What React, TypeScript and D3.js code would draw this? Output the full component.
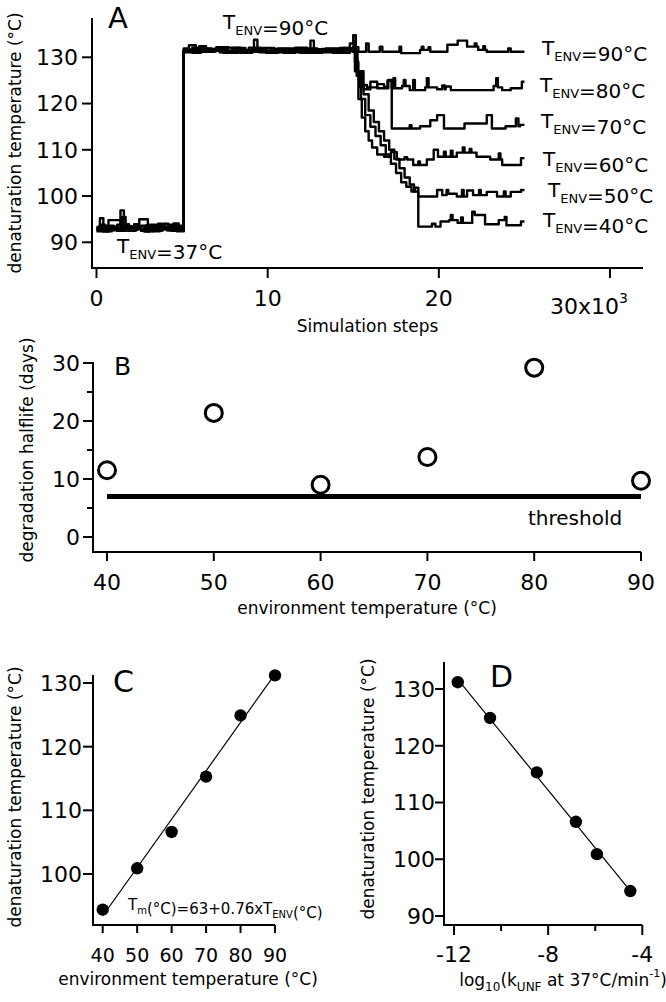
import React from 'react';
import * as d3 from 'd3';

type P = [number, number];

const FONT = '"DejaVu Sans", Verdana, sans-serif';

// ---------- Panel A data: simulation step (x10^3) vs denaturation temperature ----------
const stepTicksA = [0, 10, 20, 30];
const tempTicksA = [90, 100, 110, 120, 130];

const series90: P[] = [
  [0, 93.0], [0.4, 92.3], [0.7, 93.4], [1.1, 92.8], [1.5, 95.5], [1.7, 92.9], [2.2, 93.2], [2.6, 92.5],
  [3.0, 93.8], [3.5, 92.7], [3.9, 93.3], [4.4, 92.5], [4.8, 93.6],
  [5.1, 131.6], [5.6, 131.0], [6.1, 131.8], [6.8, 131.4], [7.6, 132.1], [8.4, 131.3], [9.1, 131.8],
  [9.9, 131.0], [10.6, 131.5], [11.4, 131.9], [12.1, 131.2], [12.8, 131.7], [13.5, 131.2], [14.2, 132.0],
  [14.8, 133.0], [15.0, 134.8], [15.15, 132.2],
  [15.3, 131.2], [15.75, 133.0], [15.9, 131.2], [16.55, 132.3], [16.7, 131.2], [17.7, 132.3], [17.8, 130.9],
  [18.9, 131.6], [19.0, 132.3], [19.1, 131.6], [19.4, 132.2], [19.5, 131.2], [20.5, 132.7], [21.1, 133.6],
  [21.65, 132.3], [22.1, 133.0], [22.2, 132.3], [22.3, 131.6], [22.6, 132.4], [22.7, 131.6], [22.8, 131.2],
  [24.05, 131.9], [24.2, 131.2], [25.0, 131.2],
];

const series80: P[] = [
  [0, 92.7], [0.2, 93.8], [0.5, 92.6], [0.9, 93.3], [1.2, 92.5], [1.7, 93.5], [2.1, 92.8], [2.6, 93.6],
  [2.9, 92.4], [3.3, 93.3], [3.6, 94.0], [3.8, 92.8], [4.3, 93.2], [4.7, 92.4],
  [5.1, 131.3], [5.9, 131.9], [6.7, 131.4], [7.4, 131.0], [8.1, 131.5], [8.9, 132.1], [9.6, 131.3],
  [10.3, 131.8], [11.0, 131.2], [11.7, 131.6], [12.4, 131.0], [13.2, 131.8], [13.9, 131.3], [14.4, 132.0],
  [15.05, 133.2], [15.15, 129.5], [15.25, 126.8], [15.4, 123.6], [15.6, 123.1], [16.0, 124.7], [16.4, 123.3],
  [17.05, 125.1], [17.25, 123.3], [17.35, 125.5], [17.45, 123.3], [17.85, 123.8], [17.95, 125.1], [18.05, 123.8],
  [18.3, 122.9], [18.5, 125.1], [18.6, 122.9], [19.2, 123.5], [19.3, 125.5], [19.4, 123.5], [19.9, 123.1],
  [20.2, 123.9], [20.35, 123.1], [20.4, 123.7], [20.7, 122.9], [23.2, 123.8], [23.35, 125.5], [23.45, 123.5],
  [23.7, 122.9], [24.2, 123.3], [24.85, 124.7], [25.0, 124.7],
];

const series70: P[] = [
  [0, 93.3], [0.3, 92.5], [0.6, 93.6], [1.0, 92.9], [1.5, 93.4], [1.9, 92.6], [2.2, 93.9], [2.5, 95.0],
  [3.0, 93.1], [3.4, 92.5], [3.8, 93.4], [4.2, 92.6], [4.5, 94.1], [4.8, 92.9],
  [5.1, 131.9], [5.4, 132.6], [5.8, 131.3], [6.6, 131.8], [7.3, 131.2], [8.0, 132.0], [8.7, 131.5],
  [9.5, 131.1], [10.2, 131.7], [10.9, 131.0], [11.6, 132.1], [12.3, 131.3], [13.0, 131.7], [13.8, 131.0],
  [14.5, 131.5], [14.9, 131.8],
  [15.1, 129.0], [15.3, 126.5], [15.5, 124.0], [15.8, 123.5], [16.4, 124.2], [16.8, 123.6], [17.0, 125.0],
  [17.25, 114.6], [18.3, 115.3], [18.4, 114.6], [18.9, 115.1], [19.5, 116.4], [19.9, 117.5], [20.3, 114.6],
  [21.5, 115.7], [22.8, 117.5], [23.1, 114.6], [23.9, 115.1], [24.5, 116.8], [24.65, 115.1], [24.75, 115.4],
  [25.0, 115.4],
];

const series60: P[] = [
  [0, 92.4], [0.4, 93.0], [0.8, 92.6], [1.2, 93.8], [1.4, 96.9], [1.6, 93.2], [2.0, 92.7], [2.4, 93.5],
  [2.8, 92.3], [3.1, 93.0], [3.5, 92.6], [3.9, 94.0], [4.2, 92.8], [4.6, 93.3],
  [5.1, 131.1], [5.7, 131.8], [6.3, 131.3], [7.0, 132.2], [7.7, 131.4], [8.4, 131.0], [9.1, 131.7],
  [9.8, 131.2], [10.6, 131.9], [11.3, 131.1], [12.0, 131.6], [12.5, 133.6], [12.7, 131.4], [13.4, 131.9],
  [14.1, 131.2], [14.7, 131.9], [15.0, 132.4],
  [15.1, 127.0], [15.3, 121.0], [15.5, 117.0], [15.7, 114.0], [15.9, 112.0], [16.1, 110.5], [16.4, 109.0],
  [16.8, 108.5], [17.2, 109.5], [17.55, 107.9], [18.0, 108.4], [18.15, 107.9], [18.5, 106.7], [18.8, 107.5],
  [18.9, 106.7], [19.3, 107.9], [19.7, 110.0], [19.95, 108.5], [20.3, 109.6], [20.4, 108.5], [20.7, 109.8],
  [20.8, 108.5], [21.05, 109.4], [21.4, 110.5], [21.5, 109.4], [21.8, 110.2], [21.9, 109.4], [22.2, 108.5],
  [23.0, 107.9], [23.5, 109.2], [23.6, 107.9], [23.7, 106.7], [24.8, 108.2], [25.0, 108.2],
];

const series50: P[] = [
  [0, 93.1], [0.2, 95.2], [0.4, 92.8], [0.7, 94.8], [1.4, 93.0], [1.8, 92.5], [2.1, 93.4], [2.5, 92.9],
  [2.9, 93.7], [3.2, 92.6], [3.6, 93.5], [4.0, 92.9], [4.3, 93.8], [4.7, 92.5],
  [5.1, 131.7], [5.5, 131.2], [6.0, 132.4], [6.4, 131.5], [7.2, 131.1], [7.9, 131.9], [8.6, 131.3],
  [9.2, 133.8], [9.4, 131.5], [10.1, 131.1], [10.8, 131.8], [11.5, 131.4], [12.2, 131.9], [12.9, 131.2],
  [13.6, 131.6], [14.3, 131.0], [14.8, 131.7], [15.0, 131.2],
  [15.2, 126.0], [15.45, 121.0], [15.7, 117.5], [16.0, 115.0], [16.3, 113.0], [16.6, 111.0], [16.9, 109.0],
  [17.2, 107.0], [17.5, 105.0], [17.8, 103.0], [18.1, 102.0], [18.4, 101.0], [18.6, 101.8],
  [18.8, 99.9], [19.9, 101.3], [20.2, 100.2], [20.45, 101.3], [20.55, 100.5],
  [21.05, 99.9], [21.35, 101.3], [21.45, 99.9], [21.65, 101.2], [22.0, 100.2], [22.35, 101.3], [22.45, 100.2],
  [22.8, 100.9], [23.4, 99.9], [23.8, 101.0], [23.9, 99.9], [24.2, 100.9], [24.8, 101.3], [25.0, 101.3],
];

const series40: P[] = [
  [0, 92.6], [0.3, 93.5], [0.6, 92.4], [0.9, 93.2], [1.3, 92.7], [1.6, 93.9], [1.9, 92.5], [2.3, 93.3],
  [2.6, 92.8], [3.0, 93.6], [3.3, 92.4], [3.7, 93.1], [4.1, 92.6], [4.4, 93.4], [4.8, 92.7],
  [5.1, 131.4], [5.6, 132.1], [6.2, 131.2], [6.9, 131.8], [7.5, 131.0], [8.3, 131.6], [9.0, 131.2],
  [9.7, 132.0], [10.4, 131.3], [11.2, 131.7], [11.9, 131.0], [12.6, 131.5], [13.3, 131.1], [14.0, 131.8],
  [14.6, 131.3],
  [15.25, 127.0], [15.6, 122.0], [15.9, 118.5], [16.2, 116.0], [16.5, 114.0], [16.8, 112.0], [17.1, 110.0],
  [17.4, 108.0], [17.7, 106.0], [18.0, 104.0], [18.3, 102.5], [18.55, 101.0],
  [18.8, 93.4], [19.6, 94.0], [19.8, 93.4], [20.1, 94.5], [20.6, 94.8], [20.7, 95.9], [20.8, 94.8],
  [21.1, 94.2], [21.3, 95.4], [21.4, 94.2], [21.95, 96.6], [22.1, 95.9], [22.7, 93.9], [23.5, 94.8],
  [23.85, 95.5], [23.95, 93.7], [24.8, 94.5], [25.0, 94.5],
];

const allSeriesA = [series90, series80, series70, series60, series50, series40];
const envLabelsA = ['90', '80', '70', '60', '50', '40'];

// ---------- Panel B data ----------
const envTemps = [40, 50, 60, 70, 80, 90];
const halflifeDays = [11.5, 21.4, 9.0, 13.8, 29.2, 9.7];
const thresholdDays = 7;
const halflifeTicks = [0, 10, 20, 30];
const halflifeMinorTicks = [5, 15, 25];

// ---------- Panel C / D data (ordered by environment temperature 40..90) ----------
const denatTemps = [94.4, 100.9, 106.6, 115.3, 124.9, 131.2];
const fitIntercept = 63;
const fitSlope = 0.76;
const tempTicksC = [100, 110, 120, 130];
const log10kUnf = [-4.51, -5.93, -6.82, -8.48, -10.47, -11.84];
const logTicksMajor = [-12, -8, -4];
const logTicksMinor = [-10, -6];

// ---------- layout (pixel geometry of panels) ----------
const LA = { x0: 96.5, x30: 610, y90: 242.3, y130: 57.3, axLeft: 92, axRight: 643, axTop: 18, axBottom: 268 };
const LB = { x40: 107, x90: 641, y0: 537, y30: 363, axLeft: 93, axTop: 362, axBottom: 552 };
const LC = { x40: 102.7, x90: 275, y100: 874, y130: 683, axLeft: 93, axTop: 675, axBottom: 925 };
const LD = { xm12: 454, xm4: 642.3, y90: 916, y130: 689, axLeft: 444, axTop: 662, axBottom: 925 };

const envLabelPos: P[] = [[542, 55], [540, 92], [541, 128], [543, 166], [548, 197], [543, 227]];

const Sub = ({ main, sub, size, subSize }: { main: string; sub: string; size: number; subSize: number }) => (
  <>
    <tspan fontSize={size}>{main}</tspan>
    <tspan fontSize={subSize} dy={size * 0.28}>{sub}</tspan>
    <tspan fontSize={size} dy={-size * 0.28}>{''}</tspan>
  </>
);

export default function App() {
  const xA = d3.scaleLinear().domain([0, 30]).range([LA.x0, LA.x30]);
  const yA = d3.scaleLinear().domain([90, 130]).range([LA.y90, LA.y130]);
  const lineA = d3.line<P>().x(d => xA(d[0])).y(d => yA(d[1])).curve(d3.curveStepAfter);

  const xB = d3.scaleLinear().domain([40, 90]).range([LB.x40, LB.x90]);
  const yB = d3.scaleLinear().domain([0, 30]).range([LB.y0, LB.y30]);

  const xC = d3.scaleLinear().domain([40, 90]).range([LC.x40, LC.x90]);
  const yC = d3.scaleLinear().domain([100, 130]).range([LC.y100, LC.y130]);

  const xD = d3.scaleLinear().domain([-12, -4]).range([LD.xm12, LD.xm4]);
  const yD = d3.scaleLinear().domain([90, 130]).range([LD.y90, LD.y130]);

  // least-squares fit for D
  const mx = d3.mean(log10kUnf)!;
  const my = d3.mean(denatTemps)!;
  const sxy = d3.sum(log10kUnf.map((x, i) => (x - mx) * (denatTemps[i] - my)));
  const sxx = d3.sum(log10kUnf.map(x => (x - mx) ** 2));
  const slopeD = sxy / sxx;
  const intD = my - slopeD * mx;
  const xDmin = d3.min(log10kUnf)!;
  const xDmax = d3.max(log10kUnf)!;

  const tickFont = 22;
  const ax = { stroke: '#000', strokeWidth: 2, fill: 'none' } as const;

  return (
    <svg width={666} height={1002} style={{ position: 'absolute', left: 0, top: 0, background: '#fff' }}
      fontFamily={FONT}>
      <rect x={0} y={0} width={666} height={1002} fill="#fff" />

      {/* ================= Panel A ================= */}
      <g>
        {allSeriesA.map((s, i) => (
          <path key={i} d={lineA(s) || ''} fill="none" stroke="#000" strokeWidth={2.4} strokeLinejoin="round" />
        ))}
        <line x1={LA.axLeft} x2={LA.axLeft} y1={LA.axTop} y2={LA.axBottom + 1} {...ax} />
        <line x1={LA.axLeft - 1} x2={LA.axRight} y1={LA.axBottom} y2={LA.axBottom} {...ax} />
        {tempTicksA.map(t => (
          <g key={t}>
            <line x1={LA.axLeft - 10} x2={LA.axLeft} y1={yA(t)} y2={yA(t)} {...ax} />
            <text x={LA.axLeft - 14} y={yA(t)} dy="0.36em" textAnchor="end" fontSize={tickFont}>{t}</text>
          </g>
        ))}
        {stepTicksA.map(t => (
          <g key={t}>
            <line x1={xA(t)} x2={xA(t)} y1={LA.axBottom} y2={LA.axBottom + 10} {...ax} />
            {t < 30 && (
              <text x={xA(t)} y={306} textAnchor="middle" fontSize={tickFont}>{t}</text>
            )}
          </g>
        ))}
        <text x={xA(30) - 60} y={314} fontSize={tickFont}>
          30x10<tspan fontSize={14} dy={-11}>3</tspan>
        </text>
        <text x={(LA.axLeft + LA.axRight) / 2} y={332} textAnchor="middle" fontSize={17}>Simulation steps</text>
        <text transform={`translate(15,143) rotate(-90)`} textAnchor="middle" dy="0.35em" fontSize={17}>
          denaturation temperature (°C)
        </text>
        <text x={108} y={28} fontSize={29}>A</text>
        <text x={223} y={29}>
          <Sub main="T" sub="ENV" size={20} subSize={13} />
          <tspan fontSize={20}>=90°C</tspan>
        </text>
        <text x={117} y={253}>
          <Sub main="T" sub="ENV" size={20} subSize={13} />
          <tspan fontSize={20}>=37°C</tspan>
        </text>
        {envLabelsA.map((lab, i) => (
          <text key={lab} x={envLabelPos[i][0]} y={envLabelPos[i][1]}>
            <Sub main="T" sub="ENV" size={20} subSize={13} />
            <tspan fontSize={20}>={lab}°C</tspan>
          </text>
        ))}
      </g>

      {/* ================= Panel B ================= */}
      <g>
        <line x1={xB(40)} x2={xB(90)} y1={yB(thresholdDays)} y2={yB(thresholdDays)} stroke="#000" strokeWidth={5} />
        {envTemps.map((t, i) => (
          <circle key={t} cx={xB(t)} cy={yB(halflifeDays[i])} r={8.5} fill="none" stroke="#000" strokeWidth={3} />
        ))}
        <line x1={LB.axLeft} x2={LB.axLeft} y1={LB.axTop} y2={LB.axBottom + 1} {...ax} />
        <line x1={LB.axLeft - 1} x2={xB(90)} y1={LB.axBottom} y2={LB.axBottom} {...ax} />
        {halflifeTicks.map(t => (
          <g key={t}>
            <line x1={LB.axLeft - 10} x2={LB.axLeft} y1={yB(t)} y2={yB(t)} {...ax} />
            <text x={LB.axLeft - 13} y={yB(t)} dy="0.36em" textAnchor="end" fontSize={tickFont}>{t}</text>
          </g>
        ))}
        {halflifeMinorTicks.map(t => (
          <line key={t} x1={LB.axLeft - 6} x2={LB.axLeft} y1={yB(t)} y2={yB(t)} {...ax} />
        ))}
        {envTemps.map(t => (
          <g key={t}>
            <line x1={xB(t)} x2={xB(t)} y1={LB.axBottom} y2={LB.axBottom + 9} {...ax} />
            <text x={xB(t)} y={590} textAnchor="middle" fontSize={tickFont}>{t}</text>
          </g>
        ))}
        <text x={528} y={525} fontSize={20}>threshold</text>
        <text x={(LB.axLeft + xB(90)) / 2} y={614} textAnchor="middle" fontSize={17}>environment temperature (°C)</text>
        <text transform={`translate(27,450) rotate(-90)`} textAnchor="middle" dy="0.35em" fontSize={17}>
          degradation halflife (days)
        </text>
        <text x={114} y={375} fontSize={25}>B</text>
      </g>

      {/* ================= Panel C ================= */}
      <g>
        <line x1={xC(40)} x2={xC(90)} y1={yC(fitIntercept + fitSlope * 40)} y2={yC(fitIntercept + fitSlope * 90)}
          stroke="#000" strokeWidth={1.2} />
        {envTemps.map((t, i) => (
          <circle key={t} cx={xC(t)} cy={yC(denatTemps[i])} r={6.2} fill="#000" />
        ))}
        <line x1={LC.axLeft} x2={LC.axLeft} y1={LC.axTop} y2={LC.axBottom + 1} {...ax} />
        <line x1={LC.axLeft - 1} x2={xC(90)} y1={LC.axBottom} y2={LC.axBottom} {...ax} />
        {tempTicksC.map(t => (
          <g key={t}>
            <line x1={LC.axLeft - 10} x2={LC.axLeft} y1={yC(t)} y2={yC(t)} {...ax} />
            <text x={LC.axLeft - 11} y={yC(t)} dy="0.36em" textAnchor="end" fontSize={tickFont}>{t}</text>
          </g>
        ))}
        {envTemps.map(t => (
          <g key={t}>
            <line x1={xC(t)} x2={xC(t)} y1={LC.axBottom} y2={LC.axBottom + 8} {...ax} />
            <text x={xC(t)} y={962} textAnchor="middle" fontSize={19}>{t}</text>
          </g>
        ))}
        <text x={128} y={910}>
          <Sub main="T" sub="m" size={15} subSize={10} />
          <tspan fontSize={15}>(°C)=63+0.76x</tspan>
          <Sub main="T" sub="ENV" size={15} subSize={10} />
          <tspan fontSize={15}>(°C)</tspan>
        </text>
        <text x={188} y={985} textAnchor="middle" fontSize={17}>environment temperature (°C)</text>
        <text transform={`translate(15,797) rotate(-90)`} textAnchor="middle" dy="0.35em" fontSize={17}>
          denaturation temperature (°C)
        </text>
        <text x={113} y={692} fontSize={30}>C</text>
      </g>

      {/* ================= Panel D ================= */}
      <g>
        <line x1={xD(xDmin)} x2={xD(xDmax)} y1={yD(intD + slopeD * xDmin)} y2={yD(intD + slopeD * xDmax)}
          stroke="#000" strokeWidth={1.2} />
        {log10kUnf.map((k, i) => (
          <circle key={k} cx={xD(k)} cy={yD(denatTemps[i])} r={6.2} fill="#000" />
        ))}
        <line x1={LD.axLeft} x2={LD.axLeft} y1={LD.axTop} y2={LD.axBottom + 1} {...ax} />
        <line x1={LD.axLeft - 1} x2={xD(-4)} y1={LD.axBottom} y2={LD.axBottom} {...ax} />
        {tempTicksA.map(t => (
          <g key={t}>
            <line x1={LD.axLeft - 9} x2={LD.axLeft} y1={yD(t)} y2={yD(t)} {...ax} />
            <text x={LD.axLeft - 9} y={yD(t)} dy="0.36em" textAnchor="end" fontSize={tickFont}>{t}</text>
          </g>
        ))}
        {logTicksMajor.map(t => (
          <g key={t}>
            <line x1={xD(t)} x2={xD(t)} y1={LD.axBottom} y2={LD.axBottom + 10} {...ax} />
            <text x={xD(t)} y={962} textAnchor="middle" fontSize={tickFont}>{t}</text>
          </g>
        ))}
        {logTicksMinor.map(t => (
          <line key={t} x1={xD(t)} x2={xD(t)} y1={LD.axBottom} y2={LD.axBottom + 6} {...ax} />
        ))}
        <text x={563} y={986} textAnchor="middle" fontSize={17}>
          log<tspan fontSize={12} dy={5}>10</tspan><tspan dy={-5}>(k</tspan>
          <tspan fontSize={12} dy={5}>UNF</tspan><tspan dy={-5}> at 37°C/min</tspan>
          <tspan fontSize={11} dy={-9}>-1</tspan><tspan dy={9}>)</tspan>
        </text>
        <text transform={`translate(368,789) rotate(-90)`} textAnchor="middle" dy="0.35em" fontSize={17}>
          denaturation temperature (°C)
        </text>
        <text x={490} y={687} fontSize={30}>D</text>
      </g>
    </svg>
  );
}
